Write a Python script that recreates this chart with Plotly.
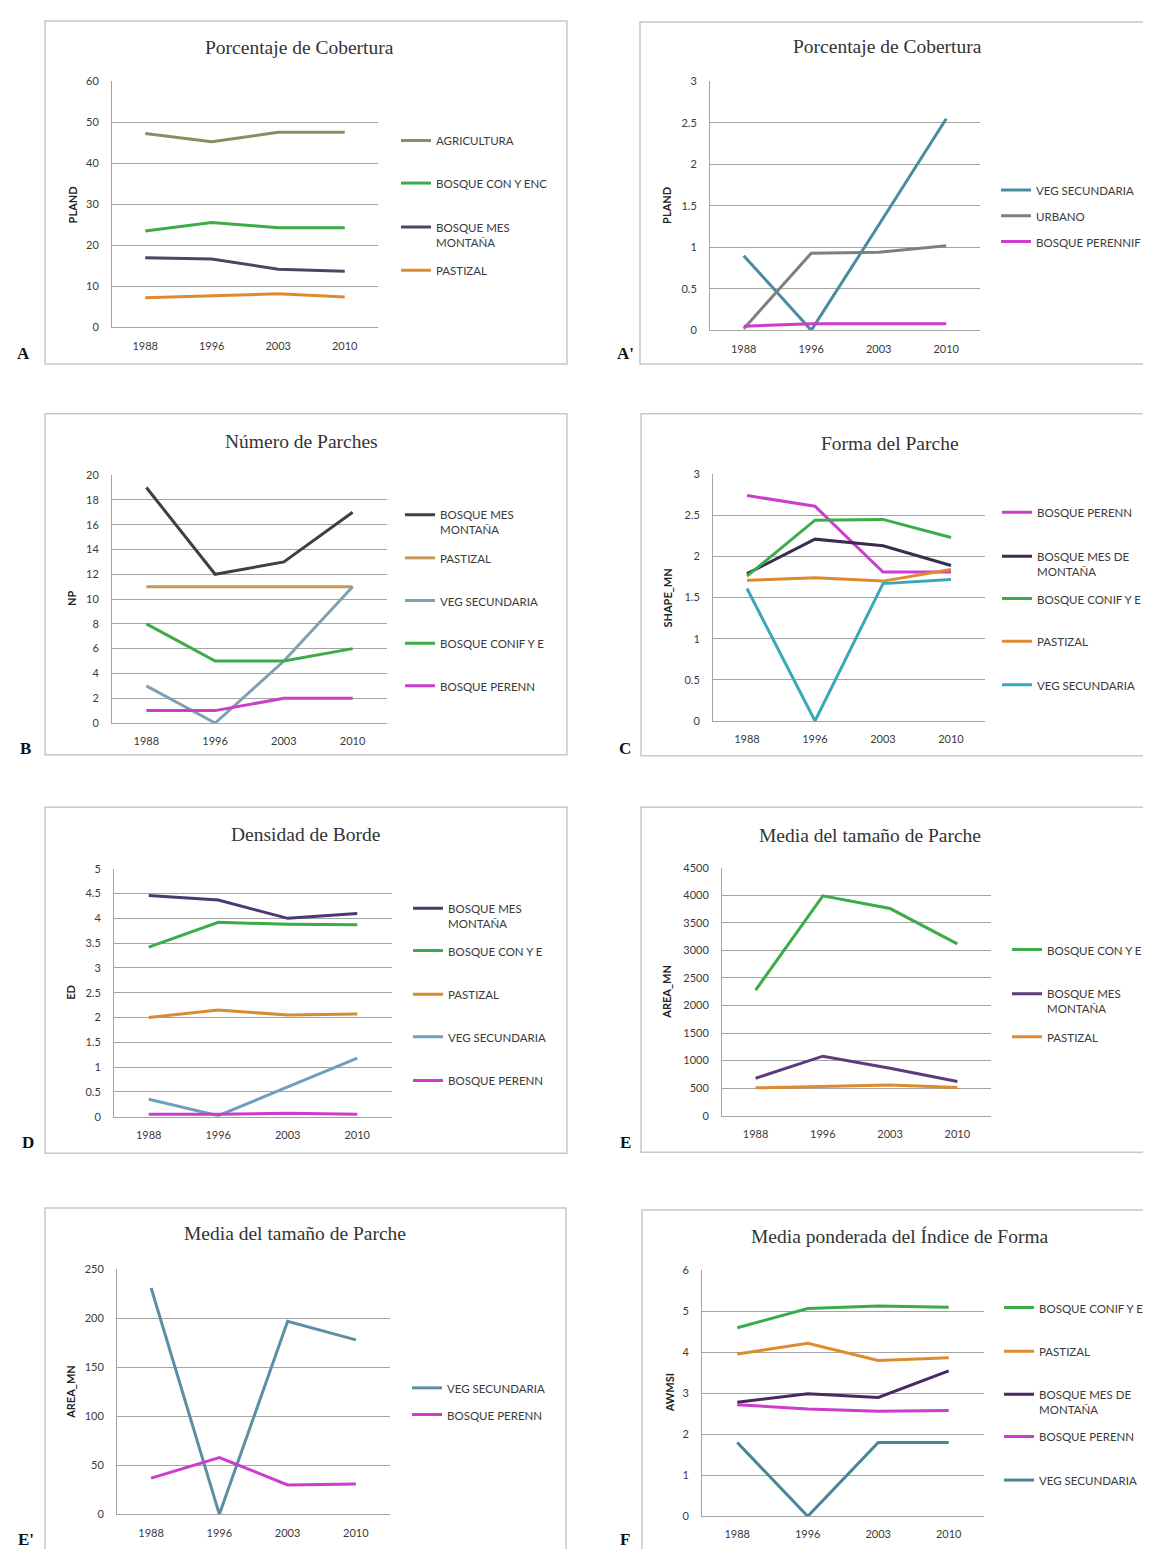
import plotly.graph_objects as go

YEARS = ["1988", "1996", "2003", "2010"]

# ---- Panel A : Porcentaje de Cobertura (PLAND)
A_AGRICULTURA = [47.3, 45.3, 47.6, 47.6]
A_BOSQUE_CON_Y_ENC = [23.5, 25.6, 24.3, 24.3]
A_BOSQUE_MES_MONTANA = [17.0, 16.7, 14.2, 13.7]
A_PASTIZAL = [7.2, 7.7, 8.2, 7.4]

# ---- Panel A' : Porcentaje de Cobertura (PLAND)
A2_VEG_SECUNDARIA = [0.9, 0.0, 1.27, 2.55]
A2_URBANO = [0.02, 0.93, 0.94, 1.02]
A2_BOSQUE_PERENNIF = [0.05, 0.08, 0.08, 0.08]

# ---- Panel B : Número de Parches (NP)
B_BOSQUE_MES_MONTANA = [19, 12, 13, 17]
B_PASTIZAL = [11, 11, 11, 11]
B_VEG_SECUNDARIA = [3, 0, 5, 11]
B_BOSQUE_CONIF_Y_E = [8, 5, 5, 6]
B_BOSQUE_PERENN = [1, 1, 2, 2]

# ---- Panel C : Forma del Parche (SHAPE_MN)
C_BOSQUE_PERENN = [2.74, 2.61, 1.81, 1.81]
C_BOSQUE_MES_DE_MONTANA = [1.79, 2.21, 2.13, 1.89]
C_BOSQUE_CONIF_Y_E = [1.76, 2.44, 2.45, 2.23]
C_PASTIZAL = [1.71, 1.74, 1.70, 1.84]
C_VEG_SECUNDARIA = [1.61, 0.0, 1.67, 1.72]

# ---- Panel D : Densidad de Borde (ED)
D_BOSQUE_MES_MONTANA = [4.46, 4.37, 4.0, 4.1]
D_BOSQUE_CON_Y_E = [3.42, 3.92, 3.88, 3.87]
D_PASTIZAL = [2.0, 2.15, 2.05, 2.07]
D_VEG_SECUNDARIA = [0.35, 0.02, 0.6, 1.18]
D_BOSQUE_PERENN = [0.05, 0.05, 0.07, 0.05]

# ---- Panel E : Media del tamaño de Parche (AREA_MN)
E_BOSQUE_CON_Y_E = [2280, 3990, 3760, 3120]
E_BOSQUE_MES_MONTANA = [680, 1080, 860, 620]
E_PASTIZAL = [505, 535, 555, 510]

# ---- Panel E' : Media del tamaño de Parche (AREA_MN)
E2_VEG_SECUNDARIA = [231, 0, 197, 178]
E2_BOSQUE_PERENN = [37, 58, 30, 31]

# ---- Panel F : Media ponderada del Índice de Forma (AWMSI)
F_BOSQUE_CONIF_Y_E = [4.6, 5.07, 5.13, 5.1]
F_PASTIZAL = [3.96, 4.22, 3.8, 3.87]
F_BOSQUE_MES_DE_MONTANA = [2.78, 2.99, 2.9, 3.55]
F_BOSQUE_PERENN = [2.72, 2.62, 2.56, 2.58]
F_VEG_SECUNDARIA = [1.8, 0.0, 1.8, 1.8]

# ---------------------------------------------------------------- styling
W, H = 1151, 1549
GREEN = "#3aad48"
MAGENTA = "#cc3dcc"
ORANGE = "#e08a30"
GRID = "#a4a4a4"
TXT = "#3a3a3a"
SANS = "Lato, 'Open Sans', sans-serif"
SERIF = "'Liberation Serif', 'DejaVu Serif', serif"
LEG_SIZE = 11.5
TICK_SIZE = 11


def fx(x):
    return x / W


def fy(y):
    return 1 - y / H


panels = [
    dict(letter="A", title="Porcentaje de Cobertura", ytitle="PLAND", ymax=60, dtick=10,
         box=(37, 6, 559, 352), plot=(104, 370, 67, 315), title_xy=(291, 33), ytitle_x=64,
         letter_xy=(16, 341), leg_x=394,
         series=[("AGRICULTURA", A_AGRICULTURA, "#8e8b62", 127, 1),
                 ("BOSQUE CON Y ENC", A_BOSQUE_CON_Y_ENC, GREEN, 170, 1),
                 ("BOSQUE MES<br>MONTAÑA", A_BOSQUE_MES_MONTANA, "#4b4763", 213, 2),
                 ("PASTIZAL", A_PASTIZAL, ORANGE, 258, 1)]),
    dict(letter="A'", title="Porcentaje de Cobertura", ytitle="PLAND", ymax=3, dtick=0.5,
         box=(632, 7, 1149, 352), plot=(702, 972, 67, 318), title_xy=(879, 32), ytitle_x=659,
         letter_xy=(617, 341), leg_x=994,
         series=[("VEG SECUNDARIA", A2_VEG_SECUNDARIA, "#4a8b9c", 177, 1),
                 ("URBANO", A2_URBANO, "#7f7f7f", 203, 1),
                 ("BOSQUE PERENNIF", A2_BOSQUE_PERENNIF, MAGENTA, 229, 1)]),
    dict(letter="B", title="Número de Parches", ytitle="NP", ymax=20, dtick=2,
         box=(37, 402, 559, 746), plot=(104, 379, 464, 714), title_xy=(293, 430), ytitle_x=63,
         letter_xy=(17, 740), leg_x=398,
         series=[("BOSQUE MES<br>MONTAÑA", B_BOSQUE_MES_MONTANA, "#3f3f46", 503, 2),
                 ("PASTIZAL", B_PASTIZAL, "#c49a55", 548, 1),
                 ("VEG SECUNDARIA", B_VEG_SECUNDARIA, "#7fa0b3", 591, 1),
                 ("BOSQUE CONIF Y E", B_BOSQUE_CONIF_Y_E, GREEN, 634, 1),
                 ("BOSQUE PERENN", B_BOSQUE_PERENN, MAGENTA, 677, 1)]),
    dict(letter="C", title="Forma del Parche", ytitle="SHAPE_MN", ymax=3, dtick=0.5,
         box=(633, 402, 1149, 747), plot=(705, 977, 463, 712), title_xy=(882, 432), ytitle_x=660,
         letter_xy=(617, 740), leg_x=995,
         series=[("BOSQUE PERENN", C_BOSQUE_PERENN, MAGENTA, 502, 1),
                 ("BOSQUE MES DE<br>MONTAÑA", C_BOSQUE_MES_DE_MONTANA, "#3a2d4f", 545, 2),
                 ("BOSQUE CONIF Y E", C_BOSQUE_CONIF_Y_E, GREEN, 589, 1),
                 ("PASTIZAL", C_PASTIZAL, ORANGE, 632, 1),
                 ("VEG SECUNDARIA", C_VEG_SECUNDARIA, "#3aa8b5", 676, 1)]),
    dict(letter="D", title="Densidad de Borde", ytitle="ED", ymax=5, dtick=0.5,
         box=(37, 799, 559, 1148), plot=(106, 384, 861, 1111), title_xy=(298, 826), ytitle_x=63,
         letter_xy=(20, 1137), leg_x=406,
         series=[("BOSQUE MES<br>MONTAÑA", D_BOSQUE_MES_MONTANA, "#4b3a72", 900, 2),
                 ("BOSQUE CON Y E", D_BOSQUE_CON_Y_E, GREEN, 944, 1),
                 ("PASTIZAL", D_PASTIZAL, "#d98a35", 988, 1),
                 ("VEG SECUNDARIA", D_VEG_SECUNDARIA, "#6f9fba", 1031, 1),
                 ("BOSQUE PERENN", D_BOSQUE_PERENN, MAGENTA, 1075, 1)]),
    dict(letter="E", title="Media del tamaño de Parche", ytitle="AREA_MN", ymax=4500, dtick=500,
         box=(633, 799, 1143, 1147), plot=(714, 983, 860, 1110), title_xy=(862, 827), ytitle_x=659,
         letter_xy=(617, 1137), leg_x=1005,
         series=[("BOSQUE CON Y E", E_BOSQUE_CON_Y_E, GREEN, 943, 1),
                 ("BOSQUE MES<br>MONTAÑA", E_BOSQUE_MES_MONTANA, "#5c3c7d", 986, 2),
                 ("PASTIZAL", E_PASTIZAL, ORANGE, 1031, 1)]),
    dict(letter="E'", title="Media del tamaño de Parche", ytitle="AREA_MN", ymax=250, dtick=50,
         box=(37, 1203, 558, 1560), plot=(109, 382, 1265, 1512), title_xy=(287, 1229), ytitle_x=63,
         letter_xy=(18, 1537), leg_x=405,
         series=[("VEG SECUNDARIA", E2_VEG_SECUNDARIA, "#5d8ea3", 1385, 1),
                 ("BOSQUE PERENN", E2_BOSQUE_PERENN, MAGENTA, 1412, 1)]),
    dict(letter="F", title="Media ponderada del Índice de Forma", ytitle="AWMSI", ymax=6, dtick=1,
         box=(634, 1205, 1149, 1560), plot=(694, 976, 1266, 1514), title_xy=(892, 1232), ytitle_x=661,
         letter_xy=(617, 1537), leg_x=997,
         series=[("BOSQUE CONIF Y E", F_BOSQUE_CONIF_Y_E, GREEN, 1304, 1),
                 ("PASTIZAL", F_PASTIZAL, ORANGE, 1348, 1),
                 ("BOSQUE MES DE<br>MONTAÑA", F_BOSQUE_MES_DE_MONTANA, "#4a2a5e", 1390, 2),
                 ("BOSQUE PERENN", F_BOSQUE_PERENN, MAGENTA, 1434, 1),
                 ("VEG SECUNDARIA", F_VEG_SECUNDARIA, "#4a8595", 1478, 1)]),
]

fig = go.Figure()
layout = dict(width=W, height=H, margin=dict(l=0, r=0, t=0, b=0), autosize=False,
              paper_bgcolor="white", plot_bgcolor="white", showlegend=True)
annotations = []
shapes = []
leg_idx = 0

for i, p in enumerate(panels, start=1):
    ax = "" if i == 1 else str(i)
    x0, x1, ytop, ybot = p["plot"]
    layout["xaxis" + ax] = dict(
        domain=[fx(x0), fx(x1)], anchor="y" + ax, type="category", range=[-0.5, 3.5],
        showgrid=False, zeroline=False, showline=True, linecolor=GRID, linewidth=1,
        ticks="", tickfont=dict(family=SANS, size=TICK_SIZE, color=TXT), ticklabelstandoff=8,
        fixedrange=True)
    layout["yaxis" + ax] = dict(
        domain=[fy(ybot), fy(ytop)], anchor="x" + ax, range=[0, p["ymax"]], dtick=p["dtick"],
        tick0=0, showgrid=True, gridcolor=GRID, gridwidth=1, zeroline=False, showline=True,
        linecolor=GRID, linewidth=1, ticks="",
        tickfont=dict(family=SANS, size=TICK_SIZE, color=TXT),
        ticklabelstandoff=10, fixedrange=True)

    for name, vals, color, ly, nlines in p["series"]:
        leg_idx += 1
        lname = "legend" if leg_idx == 1 else "legend%d" % leg_idx
        fig.add_trace(go.Scatter(
            x=YEARS, y=vals, mode="lines", name=name,
            line=dict(color=color, width=3), xaxis="x" + ax, yaxis="y" + ax,
            legend=lname, hoverinfo="skip"))
        center = ly + (nlines - 1) * 8.5
        layout[lname] = dict(
            x=fx(p["leg_x"] - 6), y=fy(center), xanchor="left", yanchor="middle",
            bgcolor="rgba(0,0,0,0)", borderwidth=0, itemwidth=30, valign="top",
            font=dict(family=SANS, size=LEG_SIZE, color=TXT),
            itemclick=False, itemdoubleclick=False)

    bx0, by0, bx1, by1 = p["box"]
    shapes.append(dict(type="rect", xref="paper", yref="paper",
                       x0=fx(bx0), x1=fx(bx1), y0=fy(by1), y1=fy(by0),
                       line=dict(color="#c8c8c8", width=1.5), layer="below"))
    tx, ty = p["title_xy"]
    annotations.append(dict(text=p["title"], x=fx(tx), y=fy(ty), xref="paper", yref="paper",
                            xanchor="center", yanchor="middle", showarrow=False,
                            font=dict(family=SERIF, size=19.5, color="#333333")))
    annotations.append(dict(text="<b>%s</b>" % p["ytitle"], x=fx(p["ytitle_x"]),
                            y=fy((ytop + ybot) / 2), xref="paper", yref="paper",
                            xanchor="center", yanchor="middle", showarrow=False, textangle=-90,
                            font=dict(family=SANS, size=11, color="#222222")))
    lx, lyy = p["letter_xy"]
    annotations.append(dict(text="<b>%s</b>" % p["letter"], x=fx(lx), y=fy(lyy),
                            xref="paper", yref="paper", xanchor="center", yanchor="middle",
                            showarrow=False, font=dict(family=SERIF, size=17, color="#111111")))

layout["annotations"] = annotations
layout["shapes"] = shapes
fig.update_layout(**layout)
fig.write_html("out.html", config={"displayModeBar": False})
